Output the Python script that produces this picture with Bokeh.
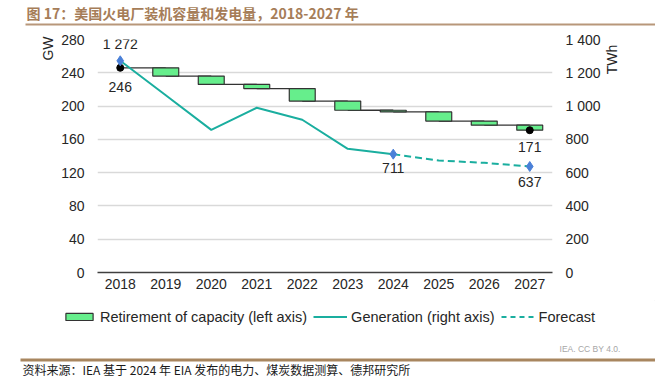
import math
from bokeh.plotting import figure
from bokeh.layouts import column
from bokeh.models import (FactorRange, Range1d, LinearAxis, FixedTicker, Legend,
                          LegendItem, Label, ColumnDataSource)
from bokeh.core.properties import value
from bokeh.embed import file_html
from bokeh.resources import INLINE

# ---------------- data ----------------
years = ["2018", "2019", "2020", "2021", "2022", "2023", "2024", "2025", "2026", "2027"]
capacity_gw = [246, 236, 226, 221, 206, 195, 193, 182, 177, 171]          # left axis
generation_twh = [1272, 1065, 857, 990, 918, 743, 711, 673, 659, 637]     # right axis
last_actual_year = "2024"
left_ticks = [0, 40, 80, 120, 160, 200, 240, 280]
right_ticks = [0, 200, 400, 600, 800, 1000, 1200, 1400]
cap_label_years = ["2018", "2027"]
gen_label_years = ["2018", "2024", "2027"]

title_text = "图 17：美国火电厂装机容量和发电量，2018-2027 年"
source_text = "资料来源：IEA 基于 2024 年 EIA 发布的电力、煤炭数据测算、德邦研究所"
credit_text = "IEA. CC BY 4.0."
legend_labels = ["Retirement of capacity (left axis)", "Generation (right axis)", "Forecast"]


def fmt(v):
    return f"{v:,}".replace(",", " ")


FONT = "Liberation Sans"
TEAL = "#1AAE9F"
BLUE = "#4A80D8"
GREEN = "#66EE8C"
DARK = "#262626"
BOX_LINE = "#333333"

W = 655
H_HEAD, H_MAIN, H_FOOT = 26, 274, 78


def canvas_label(text, x, y, **kw):
    return Label(x=x, y=y, x_units="canvas", y_units="canvas", text=text, **kw)


def rule(x, y, length, thickness, color):
    # thin horizontal rule: a blank label with a filled background box
    return Label(x=x, y=y, x_units="canvas", y_units="canvas", text=" ",
                 text_font_size="1px", padding=(0, length, thickness, 0),
                 background_fill_color=color, background_fill_alpha=1,
                 text_align="left", text_baseline="top")


def strip(height):
    f = figure(width=W, height=height, x_range=Range1d(0, 1), y_range=Range1d(0, 1),
               x_axis_type=None, y_axis_type=None, output_backend="svg",
               toolbar_location=None, min_border=0,
               min_border_left=0, min_border_right=0,
               min_border_top=0, min_border_bottom=0)
    f.frame_align = False
    f.outline_line_color = None
    f.background_fill_color = "white"
    f.border_fill_color = "white"
    return f


# ---------------- header ----------------
head = strip(H_HEAD)
head.add_layout(canvas_label(title_text, 26, 12, text_font="Noto Sans CJK SC",
                             text_font_style="bold", text_font_size="14px",
                             text_color="#A67D58", text_align="left",
                             text_baseline="middle"))
head.add_layout(rule(25, 23, 630, 1, "#B8977A"))

# ---------------- main chart ----------------
p = figure(width=W, height=H_MAIN,
           x_range=FactorRange(*years, range_padding=0),
           y_range=Range1d(0, 280),
           output_backend="svg", toolbar_location=None,
           min_border_left=97, min_border_right=103,
           min_border_top=13, min_border_bottom=28)
p.frame_align = False
p.extra_y_ranges = {"gen": Range1d(0, 1400)}
p.outline_line_color = None
p.background_fill_color = "white"
p.border_fill_color = "white"

p.xaxis.major_tick_line_color = None
p.xaxis.major_tick_out = 0
p.xaxis.major_tick_in = 0
p.xaxis.minor_tick_line_color = None
p.xaxis.axis_line_color = "#404040"
p.xaxis.axis_line_width = 1.6
p.xaxis.major_label_standoff = 6
p.xaxis.major_label_text_font = FONT
p.xaxis.major_label_text_font_size = "14px"
p.xaxis.major_label_text_color = DARK

p.yaxis.ticker = FixedTicker(ticks=left_ticks)
p.yaxis.axis_line_color = None
p.yaxis.major_tick_line_color = None
p.yaxis.minor_tick_line_color = None
p.yaxis.major_tick_out = 0
p.yaxis.major_tick_in = 0
p.yaxis.major_label_standoff = 13
p.yaxis.major_label_text_font = FONT
p.yaxis.major_label_text_font_size = "14px"
p.yaxis.major_label_text_color = DARK

raxis = LinearAxis(y_range_name="gen", ticker=FixedTicker(ticks=right_ticks),
                   major_label_overrides={t: fmt(t) for t in right_ticks})
raxis.axis_line_color = None
raxis.major_tick_line_color = None
raxis.minor_tick_line_color = None
raxis.major_tick_out = 0
raxis.major_tick_in = 0
raxis.major_label_standoff = 13
raxis.major_label_text_font = FONT
raxis.major_label_text_font_size = "14px"
raxis.major_label_text_color = DARK
p.add_layout(raxis, "right")

p.xgrid.visible = False
p.ygrid.grid_line_color = "#D9D9D9"
p.ygrid.grid_line_width = 1.3

# waterfall connectors (level of previous year carried to the next box)
p.segment(x0=years[:-1], y0=capacity_gw[:-1], x1=years[1:], y1=capacity_gw[:-1],
          line_color=BOX_LINE, line_width=1.3)
# retirement boxes
p.vbar(x=years[1:], top=capacity_gw[:-1], bottom=capacity_gw[1:], width=0.57,
       fill_color=GREEN, line_color=BOX_LINE, line_width=1.2)
p.scatter(x=cap_label_years,
          y=[capacity_gw[years.index(y)] for y in cap_label_years],
          size=7, color="black")

k = years.index(last_actual_year)
p.line(x=years[:k + 1], y=generation_twh[:k + 1], y_range_name="gen",
       line_color=TEAL, line_width=2)
p.line(x=years[k:], y=generation_twh[k:], y_range_name="gen",
       line_color=TEAL, line_width=2, line_dash="7 4")
p.scatter(x=gen_label_years,
          y=[generation_twh[years.index(y)] for y in gen_label_years],
          y_range_name="gen", marker="diamond", size=10, color=BLUE)

cap_src = ColumnDataSource(dict(
    x=cap_label_years,
    y=[capacity_gw[years.index(y)] for y in cap_label_years],
    t=[fmt(capacity_gw[years.index(y)]) for y in cap_label_years],
    off=[19, 17]))
p.text(x="x", y="y", text="t", y_offset="off", source=cap_src,
       text_font=value(FONT), text_font_size="14px", text_color=DARK,
       text_align="center", text_baseline="middle")

gen_src = ColumnDataSource(dict(
    x=gen_label_years,
    y=[generation_twh[years.index(y)] for y in gen_label_years],
    t=[fmt(generation_twh[years.index(y)]) for y in gen_label_years],
    off=[-17, 14, 16]))
p.text(x="x", y="y", text="t", y_offset="off", source=gen_src, y_range_name="gen",
       text_font=value(FONT), text_font_size="14px", text_color=DARK,
       text_align="center", text_baseline="middle")

# axis unit labels (in the side panels, so they are not clipped)
p.add_layout(canvas_label("GW", 47, 48 - H_HEAD, angle=math.pi / 2, text_font=FONT,
                          text_font_size="14px", text_color=DARK,
                          text_align="center", text_baseline="middle"), "left")
p.add_layout(canvas_label("TWh", 611, 59 - H_HEAD, angle=math.pi / 2, text_font=FONT,
                          text_font_size="14px", text_color=DARK,
                          text_align="center", text_baseline="middle"), "right")

# ---------------- footer: legend, credit, source ----------------
foot = strip(H_FOOT)
# legend proxies: one point each, placed outside the strip's visible range
lg_bar = foot.vbar(x=[5], top=[6], bottom=[5], width=0.5, fill_color=GREEN,
                   line_color=BOX_LINE, line_width=1.2)
lg_gen = foot.line(x=[5, 6], y=[5, 6], line_color=TEAL, line_width=2)
lg_fc = foot.line(x=[5, 6], y=[5, 6], line_color=TEAL, line_width=2, line_dash="5 4")
legend = Legend(items=[LegendItem(label=legend_labels[0], renderers=[lg_bar]),
                       LegendItem(label=legend_labels[1], renderers=[lg_gen]),
                       LegendItem(label=legend_labels[2], renderers=[lg_fc])],
                orientation="horizontal", location=(62, H_FOOT - 25),
                glyph_width=34, glyph_height=9, label_standoff=4, spacing=6,
                padding=0, margin=0, border_line_color=None,
                background_fill_alpha=0, label_height=17,
                label_text_font=FONT, label_text_font_size="14.5px",
                label_text_color=DARK)
foot.add_layout(legend)
foot.add_layout(canvas_label(credit_text, 620, 348 - 300, text_font=FONT,
                             text_font_size="8.5px", text_color="#A6A6A6",
                             text_align="right", text_baseline="middle"))
foot.add_layout(rule(20, 358 - 300, 635, 2, "#A8865F"))
foot.add_layout(canvas_label(source_text, 22, 369 - 300, text_font="Noto Sans CJK SC",
                             text_font_size="12px", text_color="#1a1a1a",
                             text_align="left", text_baseline="middle"))

layout = column(head, p, foot, spacing=0)
open("out.html", "w").write(file_html(layout, INLINE))
